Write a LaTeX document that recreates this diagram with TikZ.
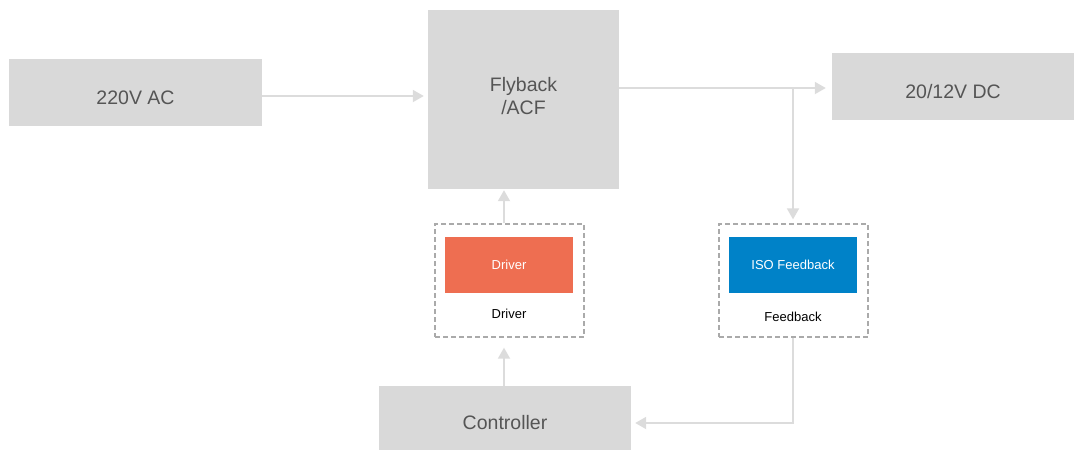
\documentclass[tikz,border=0pt]{standalone}
\usepackage{fontspec}
\setmainfont{Liberation Sans}
\usetikzlibrary{arrows.meta}
\definecolor{boxgray}{HTML}{D9D9D9}
\definecolor{linegray}{HTML}{DCDCDC}
\definecolor{txtgray}{HTML}{555555}
\definecolor{dashgray}{HTML}{AAAAAA}
\definecolor{drvorange}{HTML}{EE6E51}
\definecolor{isoblue}{HTML}{0082C8}
\tikzset{
  graybox/.style={fill=boxgray, draw=none, inner sep=0pt},
  bigtxt/.style={inner sep=0pt, text=txtgray, font=\fontsize{19.5}{23}\selectfont, align=center},
  dashbox/.style={draw=dashgray, line width=1.3pt, dash pattern=on 5pt off 3pt, inner sep=0pt},
  colbox/.style={draw=none, inner sep=0pt, text=white, font=\fontsize{13}{15}\selectfont},
  lbl/.style={inner sep=0pt, text=black, font=\fontsize{13}{15}\selectfont},
  conn/.style={draw=linegray, line width=1.8pt, -{Triangle[length=11pt,width=12pt]}},
}
\begin{document}
\begin{tikzpicture}[x=1pt,y=-1pt]
\useasboundingbox (0,0) rectangle (1075,451);
% boxes
\node[graybox, minimum width=253pt, minimum height=67pt] (ac) at (135.5,92.5) {};
\node[bigtxt] (act) at (135.5,97.5) {220V AC};
\node[graybox, minimum width=191pt, minimum height=179pt] (fly) at (523.5,99.5) {};
\node[bigtxt] (flyt) at (523.5,96) {Flyback\\/ACF};
\node[graybox, minimum width=242pt, minimum height=67pt] (dc) at (953,86.5) {};
\node[bigtxt] (dct) at (953,91.5) {20/12V DC};
\node[graybox, minimum width=252pt, minimum height=64pt] (ctl) at (505,418) {};
\node[bigtxt] (ctlt) at (505,423) {Controller};
% driver group
\node[dashbox, minimum width=149pt, minimum height=113pt] (drvg) at (509.5,280.5) {};
\node[colbox, fill=drvorange, minimum width=128pt, minimum height=56pt] (drv) at (509,265) {Driver};
\node[lbl] (drvl) at (509,313.5) {Driver};
% feedback group
\node[dashbox, minimum width=149pt, minimum height=113pt] (fbg) at (793.5,280.5) {};
\node[colbox, fill=isoblue, minimum width=128pt, minimum height=56pt] (iso) at (793,265) {ISO Feedback};
\node[lbl] (fbl) at (793,316.5) {Feedback};
% connectors
\coordinate (j) at (793,88);
\coordinate (k) at (793,423);
\draw[conn, shorten >=4pt] (ac.east |- 0,96) -- (fly.west |- 0,96);
\draw[conn, shorten >=6pt] (fly.east |- j) -- (dc.west |- j);
\draw[conn, shorten >=4pt] (j) -- (fbg.north -| j);
\draw[conn, shorten >=1pt] (drvg.north -| 504,0) -- (fly.south -| 504,0);
\draw[conn, shorten >=10pt] (ctl.north -| 504,0) -- (drvg.south -| 504,0);
\draw[conn, shorten >=4pt] (fbg.south -| k) -- (k) -- (ctl.east |- k);
\end{tikzpicture}
\end{document}
